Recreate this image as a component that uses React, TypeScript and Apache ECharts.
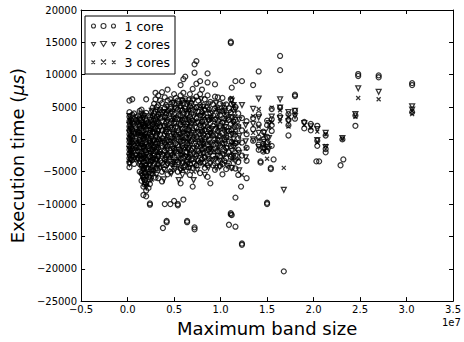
import React, { useEffect, useRef } from "react";
import * as echarts from "echarts";

// x: maximum band size in units of 1e7, y: execution time in µs
const oneCore: [number, number[]][] = [
  [0.02, [6000, 4200, 3500, 2800, 2000, 1400, 800, 200, -400, -1000, -1600, -2200, -2900, -3600, -4300]],
  [0.035, [3000, 1800, 600, -600, -1800, -3000]],
  [0.05, [6200, 3800, 2600, 1500, 500, -500, -1400, -2500, -3200]],
  [0.07, [4000, 2400, 1000, -300, -1600, -2800, -3800]],
  [0.09, [3000, 1900, 900, -200, -1300, -2400, -3000]],
  [0.11, [3600, 2300, 1100, -500, -1700, -2900]],
  [0.13, [4400, 3200, 2100, 1000, -100, -1200, -2500, -3800, -5000]],
  [0.15, [4600, 2900, 1700, 500, -700, -1900, -3000, -4100, -5200, -6400]],
  [0.17, [3800, 2500, 1300, 100, -1100, -2300, -3500, -4600, -5800, -7300, -8600]],
  [0.185, [3200, 2000, 700, -500, -1700, -2900, -4000, -5200, -6300, -7000]],
  [0.2, [6200, 4100, 2900, 1600, 400, -800, -2000, -3200, -4400, -5600, -6800, -7900, -8800]],
  [0.225, [2600, 1400, 200, -1000, -2200, -3400, -4600, -5800, -7500]],
  [0.24, [3400, 2200, 1000, -200, -1400, -2600, -3800, -5000, -6200, -6900, -10100, -9900]],
  [0.255, [4200, 3000, 1700, 500, -700, -1900, -3300, -4700]],
  [0.27, [4900, 3600, 2300, 1100, -300, -1600, -2900, -4100, -5300]],
  [0.285, [5500, 4000, 2600, 1200, -100, -1300, -2500, -3700]],
  [0.3, [7200, 6200, 4300, 3000, 1700, 500, -700, -1900, -3100, -4500, -5900]],
  [0.315, [5000, 3500, 2100, 900, -400, -1700, -3000, -4500]],
  [0.33, [6800, 5300, 3900, 2600, 1300, 0, -1300, -2600, -3900, -6000]],
  [0.35, [6000, 4600, 3300, 2000, 700, -600, -1900, -3300]],
  [0.37, [7300, 5600, 4200, 2800, 1400, 200, -1000, -2300, -3600, -5000, -6500]],
  [0.38, [-13700]],
  [0.4, [6500, 4800, 3500, 2100, 800, -500, -1800, -3100, -4600, -10000]],
  [0.415, [5300, 4000, 2600, 1200, -100, -1400, -2700, -4000]],
  [0.42, [-12800, -12600]],
  [0.43, [7700, 6000, 4400, 3000, 1600, 300, -1000, -2300, -3700, -5400]],
  [0.46, [6200, 4700, 3200, 1800, 500, -800, -2100, -3400, -5000, -10000]],
  [0.48, [5700, 4300, 2900, 1500, 200, -1100, -2400, -3800]],
  [0.5, [7000, 5400, 3900, 2500, 1100, -200, -1500, -2800, -4200, -9500]],
  [0.52, [6400, 4900, 3400, 2000, 700, -600, -1900, -3200]],
  [0.54, [6000, 4600, 3200, 1800, 400, -900, -2200, -3500, -5000, -10200, -10000]],
  [0.57, [8400, 6800, 5200, 3700, 2300, 900, -400, -1700, -3000, -4500, -6800]],
  [0.59, [6000, 4500, 3000, 1600, 300, -1000, -2300, -3700]],
  [0.6, [9300, 7200, 5600, 4000, 2600, 1200, -100, -1400, -2800, -4300, -9300]],
  [0.62, [9700, 6300, 4700, 3100, 1600, 200, -1200, -2600, -4000]],
  [0.64, [5500, 4000, 2400, 900, -600, -2000, -3500, -12800, -12600]],
  [0.655, [6100, 4600, 3000, 1500, 100, -1300, -2800, -4300]],
  [0.67, [7000, 5100, 3500, 2000, 600, -800, -2300, -3800, -5500]],
  [0.685, [5600, 4000, 2500, 1100, -300, -1700, -3200]],
  [0.7, [7800, 6200, 4500, 2900, 1400, 0, -1400, -2900, -4400, -7300]],
  [0.72, [11600, 10300, -13900, -13600]],
  [0.74, [12100, 8600, 6600, 4900, 3300, 1800, 400, -1000, -2500, -4000]],
  [0.76, [6000, 4300, 2700, 1200, -300, -1800, -3300]],
  [0.78, [9000, 7000, 5300, 3700, 2200, 800, -600, -2100, -3600, -5200]],
  [0.8, [7700, 4200, 2700, 1200, -200, -1600, -3100]],
  [0.815, [5300, 3700, 2100, 700, -700, -2100, -3600]],
  [0.83, [6200, 4600, 3000, 1500, 100, -1300, -2800, -4400]],
  [0.86, [10200, 8800, 6800, 5000, 3400, 1900, 500, -900, -2400, -4000, -5800]],
  [0.875, [4600, 3000, 1500, 0, -1500, -3000]],
  [0.89, [5800, 4100, 2500, 1000, -500, -2000, -3600, -6800]],
  [0.92, [5400, 3700, 2100, 600, -900, -2500, -4000]],
  [0.94, [8500, 6600, 4800, 3100, 1600, 100, -1400, -3000, -4700]],
  [0.97, [6500, 4600, 2900, 1300, -200, -1800, -3400]],
  [0.995, [5500, 3800, 2100, 500, -1000, -2600, -4100]],
  [1.02, [6400, 4400, 2600, 1000, -600, -2200, -3800, -5400]],
  [1.04, [4900, 3200, 1500, -100, -1700, -3300]],
  [1.06, [5400, 3600, 1900, 300, -1300, -2900, -4600]],
  [1.09, [4800, 3000, 1300, -300, -2000, -3700, -13200]],
  [1.11, [14900, 15100, 6200, 4200, 2400, 700, -1000, -2700, -11600, -11400]],
  [1.12, [8000, 5500, 3300, 1500, -400, -2400, -4400, -11700]],
  [1.14, [4600, 2700, 900, -900, -2800]],
  [1.16, [9000, 5000, 3000, 1200, -600, -2500, -4500, -9000, -13500]],
  [1.19, [4000, 2000, 200, -1600, -3500, -5500]],
  [1.22, [-7300]],
  [1.23, [9000, 3300, 1400, -500, -2500, -16300, -16100]],
  [1.28, [2800, 800, -1300, -3300, -6000]],
  [1.35, [8400, 3300, 1600, -200]],
  [1.41, [10500, 3900, 2300, 300, -800, -1600]],
  [1.43, [-3600, -3400]],
  [1.46, [1200, 0, -700, -1300, -1900]],
  [1.5, [2900, 2200, 400, -500, -1200, -1800, -9800, -10000]],
  [1.54, [-4600, -4400]],
  [1.55, [4700, 3100, 2200, 1300, -1000]],
  [1.57, [-3100]],
  [1.64, [12900, 10700, 4900, 3600]],
  [1.68, [-20400]],
  [1.73, [3900, 3000, 2200, 600]],
  [1.8, [6900, 6700, 4400, 3200]],
  [1.9, [2700, 1700]],
  [1.97, [2400, 1400]],
  [2.03, [-3400]],
  [2.04, [2100, -200, -1000]],
  [2.06, [-3400]],
  [2.13, [600, -1500, -2000]],
  [2.29, [-4000]],
  [2.31, [0]],
  [2.32, [-3100]],
  [2.45, [3700, 2100]],
  [2.48, [10100, 9800]],
  [2.7, [9900, 9600]],
  [3.06, [8700, 8400, 4200]],
];

const twoCores: [number, number[]][] = [
  [0.02, [3600, 2200, 1000, -300, -1500, -2700, -3800]],
  [0.035, [3200, 1600, 0, -1700, -3200]],
  [0.05, [2800, 1200, -200, -1800]],
  [0.09, [3400, 1400, -600, -2600]],
  [0.11, [2600, 600, -1300, -3100]],
  [0.13, [3000, 1500, -400, -2000, -3600]],
  [0.15, [4000, 2200, 600, -1000, -2600, -4200, -5600]],
  [0.17, [3300, 1800, 300, -1400, -3000, -4600, -6300]],
  [0.185, [3600, 2000, 300, -1200, -2800, -4400, -6800]],
  [0.2, [2400, 900, -700, -2400, -4100, -5800, -7400]],
  [0.24, [3000, 1300, -500, -2200, -4000, -6000]],
  [0.26, [4400, 2000, 0, -1700, -3500, -5400]],
  [0.28, [2800, 800, -1200, -3200, -5000]],
  [0.31, [4500, 2400, 300, -1600, -3600, -5500]],
  [0.33, [3400, 1300, -700, -2700]],
  [0.35, [3800, 1700, -300, -2300, -4400]],
  [0.39, [4200, 2000, -200, -2400, -4700, -6200]],
  [0.41, [3300, 1100, -1100, -3200]],
  [0.43, [5000, 2700, 500, -1700, -3900]],
  [0.47, [4000, 1800, -400, -2600, -5300]],
  [0.49, [5600, 3200, 800, -1500, -3500]],
  [0.51, [4800, 2400, 100, -2100, -4600]],
  [0.55, [5500, 3000, 700, -1600, -3900, -6300]],
  [0.57, [4400, 2000, -300, -2600, -4800]],
  [0.59, [6000, 3400, 1000, -1300, -3600, -5500]],
  [0.63, [4300, 1900, -400, -2700, -5000]],
  [0.65, [5600, 3100, 700, -1700, -3900]],
  [0.67, [5200, 2600, 200, -2200, -4500]],
  [0.71, [6000, 3400, 1000, -1400, -3800, -6300]],
  [0.73, [4200, 1800, -700, -3000]],
  [0.75, [5000, 2500, 100, -2300, -4700]],
  [0.79, [6200, 3600, 1200, -1200, -3600]],
  [0.81, [5000, 2700, 200, -2200]],
  [0.83, [4400, 2000, -400, -2800, -5500]],
  [0.87, [5400, 2900, 500, -1900, -4400]],
  [0.89, [3300, 900, -1500]],
  [0.91, [4000, 1600, -800, -3300]],
  [0.95, [5600, 3000, 600, -1900, -4400]],
  [0.97, [4800, 2300, -100, -2600]],
  [0.99, [4200, 1700, -800, -3300, -4300]],
  [1.03, [5200, 2600, 100, -2500]],
  [1.05, [4400, 1900, -700]],
  [1.07, [3800, 1200, -1400, -4100]],
  [1.12, [6000, 3400, 800, -1800, -4400]],
  [1.14, [5300, 2700, 0, -2600]],
  [1.16, [4600, 2000, -700, -3400]],
  [1.2, [3000, 500, -2100, -4800]],
  [1.23, [5300]],
  [1.27, [2200, -300, -2800]],
  [1.35, [4700, 2400, 0]],
  [1.41, [6300, 3400, 1000, -1200]],
  [1.47, [1000, -400, -1600]],
  [1.52, [2500, 200, -1500]],
  [1.55, [3500]],
  [1.64, [6200, 4900, 3300]],
  [1.68, [-7800]],
  [1.73, [4200, 2800]],
  [1.8, [4400, 3600]],
  [1.9, [2500]],
  [1.97, [2000]],
  [2.04, [1600, -100]],
  [2.13, [1000, -1200]],
  [2.31, [200]],
  [2.45, [3900]],
  [2.48, [7900]],
  [2.7, [7350]],
  [3.06, [5100, 4600]],
];

const threeCores: [number, number[]][] = [
  [0.02, [3000, 1700, 400, -900, -2200, -3400]],
  [0.035, [2600, 1000, -500, -2000]],
  [0.05, [2200, 700, -900, -2400]],
  [0.09, [2600, 600, -1400]],
  [0.11, [3100, 1300, -500, -2300]],
  [0.13, [2500, 800, -900, -2700]],
  [0.15, [3600, 1800, 0, -1700, -3500, -5200]],
  [0.17, [2800, 1000, -800, -2600, -4400, -6000]],
  [0.185, [2300, 500, -1300, -3100, -4900]],
  [0.21, [2000, 200, -1600, -3400, -5200, -7000]],
  [0.24, [2400, 600, -1200, -3000, -4800]],
  [0.26, [3800, 1600, -500, -2400, -6200]],
  [0.28, [3400, 1400, -600, -2600, -4400]],
  [0.31, [2000, -100, -2200, -4300]],
  [0.33, [3200, 1100, -1100, -3200]],
  [0.35, [4600, 2400, 200, -2000, -4000]],
  [0.39, [3200, 1000, -1200, -3400]],
  [0.41, [4400, 2000, -300, -2400]],
  [0.43, [4000, 1700, -600, -2900]],
  [0.47, [4600, 2200, -200, -2600, -4800]],
  [0.49, [3000, 600, -1800, -4000]],
  [0.51, [3600, 1200, -1200, -3400]],
  [0.55, [4200, 1800, -600, -3000]],
  [0.57, [5400, 3000, 600, -1800]],
  [0.59, [5000, 2500, 100, -2300, -4600]],
  [0.63, [3400, 1000, -1400, -3600]],
  [0.65, [4500, 2200, -300, -2600]],
  [0.67, [4200, 1700, -800, -3200]],
  [0.71, [5000, 2500, 0, -2500, -5000]],
  [0.73, [3000, 500, -1900, -4200]],
  [0.75, [3800, 1300, -1200, -3600]],
  [0.79, [4800, 2300, -200, -2700]],
  [0.81, [4100, 1600, -900]],
  [0.83, [3500, 1000, -1500, -4000]],
  [0.87, [4400, 1900, -600, -3100]],
  [0.89, [3600, 1200, -1300]],
  [0.91, [3000, 500, -2000]],
  [0.95, [4600, 2100, -400, -2900]],
  [0.97, [3800, 1400, -1100]],
  [0.99, [3200, 700, -1800]],
  [1.03, [4200, 1600, -1000, -3400]],
  [1.05, [3400, 800, -1700]],
  [1.07, [2800, 200, -2400]],
  [1.12, [6400, 4400, 1800, -800, -3200]],
  [1.14, [5300, 2400, -400]],
  [1.16, [3600, 1000, -1600]],
  [1.2, [2000, -600, -3000]],
  [1.23, [-5500]],
  [1.27, [1200, -1400]],
  [1.35, [3600, 1000]],
  [1.41, [4700, 2000, 0]],
  [1.47, [600, -900, -1800]],
  [1.5, [-3000]],
  [1.52, [1800, -600]],
  [1.55, [4900, 2600]],
  [1.64, [4500, 2800]],
  [1.68, [-4400]],
  [1.73, [3500, 2000]],
  [1.8, [3900]],
  [1.9, [2200]],
  [1.97, [1800]],
  [2.04, [1200, -500]],
  [2.13, [800, -1000]],
  [2.31, [100]],
  [2.45, [3500]],
  [2.48, [6400]],
  [2.7, [6200]],
  [3.06, [4400, 3900]],
];

const seriesNames = ["1 core", "2 cores", "3 cores"];
const xTickMin = -0.5;
const xTickMax = 3.5;
const xTickStep = 0.5;
const yTickMin = -25000;
const yTickMax = 20000;
const yTickStep = 5000;
const xOffsetText = "1e7";

const toPoints = (cols: [number, number[]][]) =>
  cols.flatMap(([x, ys]) => ys.map((y) => [x, y]));

const FONT = "DejaVu Sans";
const minus = (s: string) => s.replace("-", "\u2212");

const circlesIcon =
  "path://M0,2.5a2,2 0 1,0 4,0a2,2 0 1,0 -4,0M9.5,2.5a2.5,2.5 0 1,0 5,0a2.5,2.5 0 1,0 -5,0M20,2.5a2,2 0 1,0 4,0a2,2 0 1,0 -4,0";
const trianglesIcon =
  "path://M0,1L4,1L2,4.5ZM9,0L15,0L12,5ZM20,1L24,1L22,4.5Z";
const crossesIcon =
  "path://M0,1L3.5,4.5M3.5,1L0,4.5M9.5,0L14.5,5M14.5,0L9.5,5M20.5,1L24,4.5M24,1L20.5,4.5";

export default function App() {
  const ref = useRef<HTMLDivElement>(null);
  useEffect(() => {
    if (!ref.current) return;
    const chart = echarts.init(ref.current, null, { renderer: "svg" });
    const markerStyle = { color: "none", borderColor: "#000", borderWidth: 1.25 };
    const legendStyle = { color: "none", borderColor: "#000", borderWidth: 1.1 };
    const axisCommon = {
      axisLine: { show: true, onZero: false, lineStyle: { color: "#000", width: 1 } },
      axisTick: { show: true, inside: true, length: 4, lineStyle: { color: "#000" } },
      splitLine: { show: false },
    };
    chart.setOption({
      animation: false,
      backgroundColor: "#fff",
      textStyle: { fontFamily: FONT },
      grid: { left: 79, right: 6, top: 10, bottom: 38, containLabel: false },
      legend: {
        orient: "vertical",
        left: 85,
        top: 16,
        padding: [3, 5, 5, 4],
        itemGap: 4,
        itemWidth: 24,
        itemHeight: 5,
        borderColor: "#000",
        borderWidth: 1,
        backgroundColor: "#fff",
        textStyle: { fontFamily: FONT, fontSize: 12.5, color: "#000", lineHeight: 14, padding: [0, 0, 0, 4] },
        data: [
          { name: seriesNames[0], icon: circlesIcon, itemStyle: legendStyle },
          { name: seriesNames[1], icon: trianglesIcon, itemStyle: legendStyle },
          { name: seriesNames[2], icon: crossesIcon, itemStyle: legendStyle },
        ],
      },
      xAxis: [
        {
          type: "value",
          min: xTickMin,
          max: xTickMax,
          interval: xTickStep,
          position: "bottom",
          name: "Maximum band size",
          nameLocation: "middle",
          nameGap: 16,
          nameTextStyle: { fontFamily: FONT, fontSize: 18, color: "#000" },
          axisLabel: {
            margin: 3,
            fontFamily: FONT,
            fontSize: 10,
            color: "#000",
            formatter: (v: number) => minus(v.toFixed(1)),
          },
          ...axisCommon,
        },
        {
          type: "value",
          min: xTickMin,
          max: xTickMax,
          interval: xTickStep,
          position: "top",
          axisLabel: { show: false },
          ...axisCommon,
        },
      ],
      yAxis: [
        {
          type: "value",
          min: yTickMin,
          max: yTickMax,
          interval: yTickStep,
          position: "left",
          name: "Execution time ({i|μs})",
          nameLocation: "middle",
          nameGap: 48,
          nameTextStyle: {
            fontFamily: FONT,
            fontSize: 18,
            color: "#000",
            rich: { i: { fontFamily: FONT, fontSize: 18, fontStyle: "italic", color: "#000" } },
          },
          axisLabel: {
            margin: 4,
            fontFamily: FONT,
            fontSize: 10,
            color: "#000",
            formatter: (v: number) => minus(String(v)),
          },
          ...axisCommon,
        },
        {
          type: "value",
          min: yTickMin,
          max: yTickMax,
          interval: yTickStep,
          position: "right",
          axisLabel: { show: false },
          ...axisCommon,
        },
      ],
      graphic: [
        {
          type: "text",
          left: 442,
          top: 317,
          style: { text: xOffsetText, fontFamily: FONT, fontSize: 10, fill: "#000" },
        },
      ],
      series: [
        {
          type: "scatter",
          name: seriesNames[0],
          data: toPoints(oneCore),
          symbol: "circle",
          symbolSize: 5,
          itemStyle: markerStyle,
          emphasis: { disabled: true },
        },
        {
          type: "scatter",
          name: seriesNames[1],
          data: toPoints(twoCores),
          symbol: "triangle",
          symbolRotate: 180,
          symbolSize: 5,
          itemStyle: markerStyle,
          emphasis: { disabled: true },
        },
        {
          type: "scatter",
          name: seriesNames[2],
          data: toPoints(threeCores),
          symbol: "path://M0,0L10,10M10,0L0,10",
          symbolSize: 4,
          itemStyle: markerStyle,
          emphasis: { disabled: true },
        },
      ],
    });
    return () => chart.dispose();
  }, []);
  return (
    <div
      ref={ref}
      style={{ position: "fixed", left: 0, top: 0, width: 464, height: 342 }}
    />
  );
}
